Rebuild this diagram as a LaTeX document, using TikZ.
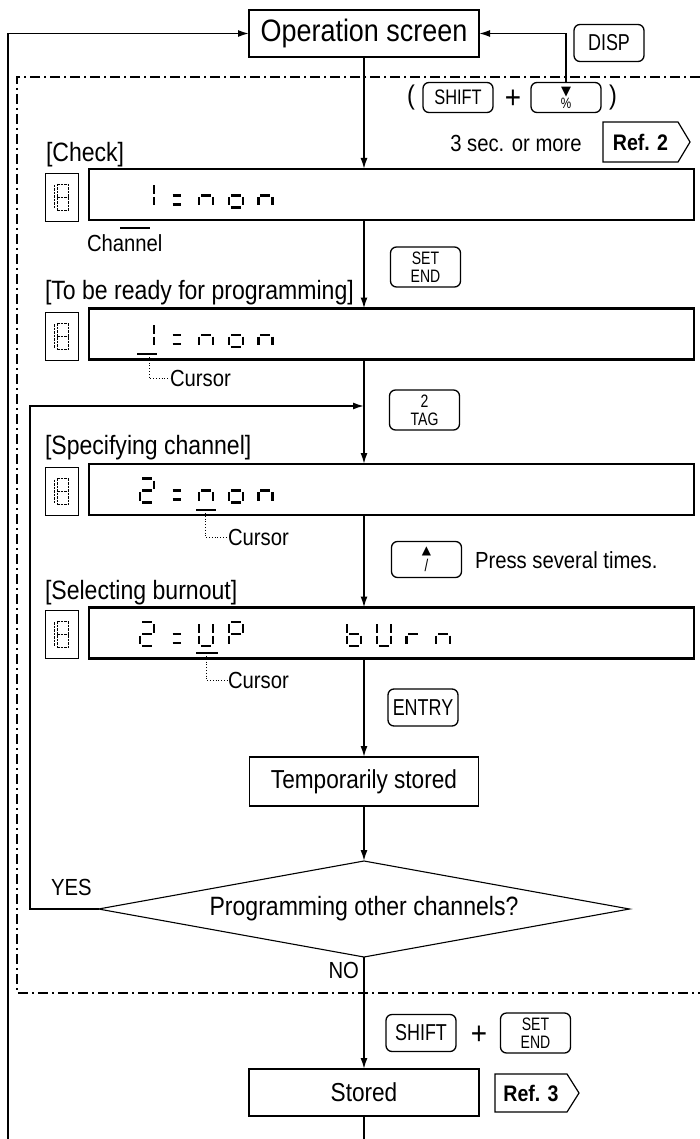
\documentclass[tikz,border=0pt]{standalone}
\usepackage{fontspec}
\setmainfont[FakeStretch=0.87]{Liberation Sans}
\newfontfamily\keyfont[FakeStretch=0.78]{Liberation Sans}
\newfontfamily\symfont{DejaVu Sans}
\usetikzlibrary{arrows.meta,calc,shapes.geometric}

\tikzset{
  every node/.style={inner sep=0pt, outer sep=0pt},
  arr/.style={line width=1.6pt, -{Latex[length=11pt,width=7pt]}},
  ln/.style={line width=1.6pt},
  thickbox/.style={draw, line width=2.4pt, minimum width=230pt, minimum height=47pt, font=\fontsize{26}{26}\selectfont},
  thinbox/.style={draw, line width=1.1pt, minimum width=229pt, minimum height=49pt, font=\fontsize{26}{26}\selectfont},
  dispbox/.style={draw, line width=2.6pt, minimum width=605pt, minimum height=51pt},
  smallbox/.style={draw, line width=0.9pt, minimum width=33pt, minimum height=48pt},
  keybox/.style={draw, line width=1.3pt, rounded corners=6pt, minimum width=70pt, minimum height=37pt, font=\keyfont\fontsize{23}{23}\selectfont},
  keytwo/.style={keybox, align=center, minimum height=40pt, font=\keyfont\fontsize{18}{18}\selectfont},
  lbl/.style={anchor=west, font=\fontsize{26.5}{26.5}\selectfont},
  smalltext/.style={font=\fontsize{23.3}{23.3}\selectfont},
  reftag/.style={minimum width=75pt, minimum height=40pt, font=\bfseries\fontsize{22.5}{22.5}\selectfont},
  tagline/.style={line width=1.2pt},
  seg/.style={line width=2.3pt},
  thinseg/.style={line width=0.9pt, dash pattern=on 2.5pt off 1pt},
  dashdot/.style={line width=1.2pt, dash pattern=on 10pt off 4pt on 2pt off 4pt},
  leader/.style={line width=0.8pt, dotted},
  uline/.style={line width=2.4pt},
  dia/.style={draw, diamond, line width=1.1pt, aspect=5.5, minimum width=531pt, minimum height=96pt, font=\fontsize{26.5}{26.5}\selectfont},
}

\newcommand\sevenI[7]{%
  \ifnum#1=1 \draw[seg] (2,0)--(12,0);\fi
  \ifnum#2=1 \draw[seg] (14,2)--(14,10.5);\fi
  \ifnum#3=1 \draw[seg] (14,13.5)--(14,22);\fi
  \ifnum#4=1 \draw[seg] (2,24)--(12,24);\fi
  \ifnum#5=1 \draw[seg] (0,13.5)--(0,22);\fi
  \ifnum#6=1 \draw[seg] (0,2)--(0,10.5);\fi
  \ifnum#7=1 \draw[seg] (2,12)--(12,12);\fi}
\newcommand\seven[3]{\begin{scope}[shift={(#1,#2)}]\sevenI#3\end{scope}}
\newcommand\colonat[2]{\begin{scope}[shift={(#1,#2)}]
  \draw[seg] (3,12)--(11,12); \draw[seg] (3,21)--(11,21);\end{scope}}
\newcommand\eightat[2]{\begin{scope}[shift={(#1,#2)}]
  \draw[thinseg] (0,0)--(11,0) (11,0)--(11,26) (0,26)--(11,26) (0,0)--(0,26) (0,13)--(11,13);
  \draw[thinseg] (-3,1)--(-3,25);\end{scope}}

\begin{document}
\begin{tikzpicture}[x=1pt,y=-1pt]
\useasboundingbox (0,0) rectangle (700,1139);

% dash-dot frame
\draw[dashdot] (700,77) -- (17,77) -- (17,993) -- (700,993);

% top
\node[thickbox, font=\fontsize{31}{31}\selectfont] (op) at (364,33.5) {Operation screen};
\node[keybox] (disp) at (609,43) {DISP};
\node[font=\fontsize{27}{27}\selectfont] (lp) at (411,98) {(};
\node[keybox, minimum height=30pt, font=\keyfont\fontsize{21}{21}\selectfont] (shift1) at (458,97.5) {SHIFT};
\node[font=\fontsize{32}{32}\selectfont] (plus1) at (513,99) {+};
\node[keytwo, minimum height=30pt, font=\keyfont\fontsize{15}{13}\selectfont] (pct) at (566,97.5) {{\symfont\fontsize{13}{13}\selectfont ▼}\\\%};
\node[font=\fontsize{27}{27}\selectfont] (rp) at (613,98) {)};
\node[smalltext] (sec) at (516,143) {3 sec. or more};
\node[reftag] (ref2) at (640.5,142) {Ref. 2};
\draw[tagline] (ref2.north west) -- (ref2.north east) -- ($(ref2.east)+(12,0)$) -- (ref2.south east) -- (ref2.south west) -- cycle;

% display 1
\node[lbl] (chk) at (46,155) {[Check]};
\node[dispbox] (d1) at (391.5,194.5) {};
\node[smallbox] (s1) at (61.5,197) {};
\eightat{57}{184}
\seven{140}{183.5}{0110000}
\colonat{169.6}{183.5}
\seven{199.2}{183.5}{0010101}
\seven{228.8}{183.5}{0011101}
\seven{258.4}{183.5}{0010101}
\node[smalltext, anchor=west] (chan) at (87,243) {Channel};
\draw[uline] (120,228) -- (150,228);
\node[keytwo] (setend1) at (425.5,267) {SET\\END};

% display 2
\node[lbl] (rdy) at (45,293) {[To be ready for programming]};
\node[dispbox] (d2) at (391.5,334) {};
\node[smallbox] (s2) at (61.5,336) {};
\eightat{57}{323}
\seven{140}{323}{0110000}
\colonat{169.6}{323}
\seven{199.2}{323}{0010101}
\seven{228.8}{323}{0011101}
\seven{258.4}{323}{0010101}
\draw[uline] (137,354) -- (157,354);
\node[smalltext, anchor=west] (cur1) at (170,378) {Cursor};
\draw[leader] (149,357) |- (cur1.west);
\node[keytwo] (tag) at (424.5,410) {2\\TAG};

% display 3
\node[lbl] (spec) at (45,448) {[Specifying channel]};
\node[dispbox] (d3) at (391.5,489.5) {};
\node[smallbox] (s3) at (61.5,491.5) {};
\eightat{57}{478.5}
\seven{140}{478.5}{1101101}
\colonat{169.6}{478.5}
\seven{199.2}{478.5}{0010101}
\seven{228.8}{478.5}{0011101}
\seven{258.4}{478.5}{0010101}
\draw[uline] (196,510) -- (216,510);
\node[smalltext, anchor=west] (cur2) at (228,537) {Cursor};
\draw[leader] (205,513) |- (cur2.west);
\node[keytwo, minimum height=36pt, font=\keyfont\fontsize{17}{17}\selectfont] (up) at (426.5,559.5) {{\symfont\fontsize{12}{12}\selectfont ▲}\\/};
\node[smalltext, anchor=west] (press) at (475,560) {Press several times.};

% display 4
\node[lbl] (sel) at (45,593) {[Selecting burnout]};
\node[dispbox] (d4) at (391.5,633) {};
\node[smallbox] (s4) at (61.5,634) {};
\eightat{57}{621}
\seven{140}{622}{1101101}
\colonat{169.6}{622}
\seven{199.2}{622}{0111110}
\seven{228.8}{622}{1100111}
\seven{347.2}{622}{0011111}
\seven{376.8}{622}{0111110}
\seven{406.4}{622}{0000101}
\seven{436}{622}{0010101}
\draw[uline] (196,653) -- (218,653);
\node[smalltext, anchor=west] (cur3) at (228,680) {Cursor};
\draw[leader] (206,656) |- (cur3.west);
\node[keybox] (entry) at (423,707.5) {ENTRY};

% lower part
\node[thinbox] (temp) at (364,781.5) {Temporarily stored};
\node[dia] (q) at (364,909) {Programming other channels?};
\node[smalltext, anchor=west] (yes) at (51,887) {YES};
\node[smalltext, anchor=east] (no) at (359,970) {NO};
\node[keybox] (shift2) at (421,1033) {SHIFT};
\node[font=\fontsize{32}{32}\selectfont] (plus2) at (479,1035) {+};
\node[keytwo] (setend2) at (535.5,1033) {SET\\END};
\node[thickbox] (stored) at (364,1092.5) {Stored};
\node[reftag, minimum width=72pt, minimum height=38pt] (ref3) at (531,1093) {Ref. 3};
\draw[tagline] (ref3.north west) -- (ref3.north east) -- ($(ref3.east)+(12,0)$) -- (ref3.south east) -- (ref3.south west) -- cycle;

% connectors
\coordinate (botm) at (364,1139);
\coordinate (botl) at (8,1139);
\coordinate (loopc) at (30,406);
\draw[arr] (op.south) -- (d1.north -| op);
\draw[arr] (d1.south -| op) -- (d2.north -| op);
\draw[arr] (d2.south -| op) -- (d3.north -| op);
\draw[arr] (d3.south -| op) -- (d4.north -| op);
\draw[arr] (d4.south -| op) -- (temp.north);
\draw[arr] (temp.south) -- (q.north);
\draw[arr] (q.south) -- (stored.north);
\draw[ln] (stored.south) -- (botm);
\draw[arr] (botl) |- (op.west);
\draw[arr] (pct.north) |- (op.east);
\draw[arr] (q.west) -| (loopc) -- (loopc -| op);
\end{tikzpicture}
\end{document}
